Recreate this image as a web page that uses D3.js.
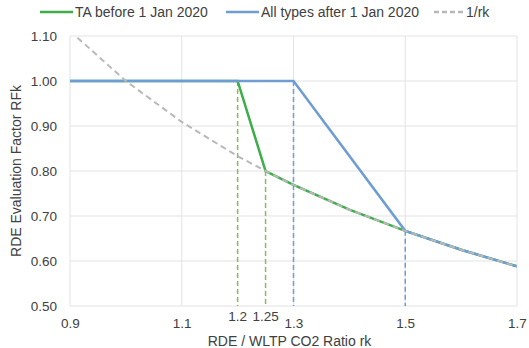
<!DOCTYPE html>
<html>
<head>
<meta charset="utf-8">
<script src="https://cdn.jsdelivr.net/npm/d3@7"></script>
<style>
  body { margin: 0; background: #fff; }
  text { font-family: "Liberation Sans", Arial, sans-serif; fill: #404040; }
</style>
</head>
<body>
<div id="chart"></div>
<script>
// data
const invRk = [0.9, 1.0, 1.1, 1.2, 1.25, 1.3, 1.4, 1.5, 1.6, 1.7];
const invVals = [1.111, 1.0, 0.909, 0.833, 0.8, 0.769, 0.714, 0.667, 0.625, 0.588];

const taRk = [0.9, 1.2, 1.25, 1.3, 1.4, 1.5, 1.6, 1.7];
const taVals = [1.0, 1.0, 0.8, 0.769, 0.714, 0.667, 0.625, 0.588];

const allRk = [0.9, 1.3, 1.5, 1.6, 1.7];
const allVals = [1.0, 1.0, 0.667, 0.625, 0.588];

const taMarks = [1.2, 1.25];
const taMarkTop = [1.0, 0.8];
const allMarks = [1.3, 1.5];
const allMarkTop = [1.0, 0.667];

const xTicks = [0.9, 1.1, 1.3, 1.5, 1.7];
const xExtraTicks = [1.2, 1.25];
const yTicks = [0.5, 0.6, 0.7, 0.8, 0.9, 1.0, 1.1];

const colors = {
  ta: '#3dae49',
  taMark: '#8db85c',
  all: '#6d9dd3',
  inv: '#b8b8b8',
  grid: '#e3e3e3'
};

const W = 529, H = 348;
const margin = { top: 36, right: 12, bottom: 42, left: 70 };
const width = W - margin.left - margin.right;
const height = H - margin.top - margin.bottom;

const svg = d3.select('#chart').append('svg')
  .attr('width', W)
  .attr('height', H);

svg.append('defs').append('clipPath').attr('id', 'plotclip')
  .append('rect').attr('width', width).attr('height', height);

const chart = svg.append('g')
  .attr('transform', `translate(${margin.left},${margin.top})`);

const x = d3.scaleLinear().domain([0.9, 1.7]).range([0, width]);
const y = d3.scaleLinear().domain([0.5, 1.1]).range([height, 0]);

// grid
chart.append('g').selectAll('line.hg')
  .data(yTicks).enter().append('line')
  .attr('x1', 0).attr('x2', width)
  .attr('y1', d => y(d)).attr('y2', d => y(d))
  .style('stroke', colors.grid);

chart.append('g').selectAll('line.vg')
  .data(xTicks).enter().append('line')
  .attr('y1', 0).attr('y2', height)
  .attr('x1', d => x(d)).attr('x2', d => x(d))
  .style('stroke', colors.grid);

// axes
const yaxis = d3.axisLeft(y).tickValues(yTicks).tickSize(0).tickPadding(13)
  .tickFormat(d3.format('.2f'));
const yG = chart.append('g').call(yaxis);
yG.select('.domain').remove();
yG.selectAll('text').style('font-size', '13.5px').style('fill', '#404040');

const xaxis = d3.axisBottom(x).tickValues(xTicks).tickSize(0).tickPadding(12)
  .tickFormat(d => d.toFixed(1));
const xG = chart.append('g').attr('transform', `translate(0,${height})`).call(xaxis);
xG.select('.domain').remove();
xG.selectAll('text').style('font-size', '13.5px').style('fill', '#404040');

// extra ticks sit a bit higher than the regular ones
chart.append('g').selectAll('text.extra')
  .data(xExtraTicks).enter().append('text')
  .attr('x', d => x(d))
  .attr('y', height + 15)
  .attr('text-anchor', 'middle')
  .style('font-size', '13.5px')
  .text(d => d);

// vertical markers
chart.append('g').selectAll('line.tam')
  .data(taMarks).enter().append('line')
  .attr('x1', d => x(d)).attr('x2', d => x(d))
  .attr('y1', (d, i) => y(taMarkTop[i])).attr('y2', height)
  .style('stroke', colors.taMark).style('stroke-width', 1.5)
  .style('stroke-dasharray', '5,3');

chart.append('g').selectAll('line.allm')
  .data(allMarks).enter().append('line')
  .attr('x1', d => x(d)).attr('x2', d => x(d))
  .attr('y1', (d, i) => y(allMarkTop[i])).attr('y2', height)
  .style('stroke', colors.all).style('stroke-width', 1.5)
  .style('stroke-dasharray', '5,3');

const line = d3.line().x(d => x(d[0])).y(d => y(d[1]));
const plot = chart.append('g').attr('clip-path', 'url(#plotclip)');

plot.append('path')
  .datum(d3.zip(taRk, taVals))
  .attr('d', line)
  .style('fill', 'none').style('stroke', colors.ta).style('stroke-width', 2.5);

plot.append('path')
  .datum(d3.zip(allRk, allVals))
  .attr('d', line)
  .style('fill', 'none').style('stroke', colors.all).style('stroke-width', 2.5);

plot.append('path')
  .datum(d3.zip(invRk, invVals))
  .attr('d', line)
  .style('fill', 'none').style('stroke', colors.inv).style('stroke-width', 2)
  .style('stroke-dasharray', '6,4');

// axis titles
svg.append('text')
  .attr('x', margin.left + width / 2 - 4)
  .attr('y', H - 2)
  .attr('text-anchor', 'middle')
  .style('font-size', '14px')
  .text('RDE / WLTP CO2 Ratio rk');

svg.append('text')
  .attr('transform', `translate(21,${margin.top + height / 2}) rotate(-90)`)
  .attr('text-anchor', 'middle')
  .style('font-size', '14px')
  .text('RDE Evaluation Factor RFk');

// legend
const legendItems = [
  { label: 'TA before 1 Jan 2020', color: colors.ta, dash: null, x: 40, len: 33 },
  { label: 'All types after 1 Jan 2020', color: colors.all, dash: null, x: 226, len: 33 },
  { label: '1/rk', color: colors.inv, dash: '5,3', x: 434, len: 30 }
];
const legend = svg.append('g');
const li = legend.selectAll('g').data(legendItems).enter().append('g')
  .attr('transform', d => `translate(${d.x},12)`);
li.append('line')
  .attr('x1', 0).attr('x2', d => d.len).attr('y1', 0).attr('y2', 0)
  .style('stroke', d => d.color).style('stroke-width', 2.5)
  .style('stroke-dasharray', d => d.dash);
li.append('text')
  .attr('x', d => d.len + 2).attr('y', 5)
  .style('font-size', '14px')
  .text(d => d.label);
</script>
</body>
</html>
